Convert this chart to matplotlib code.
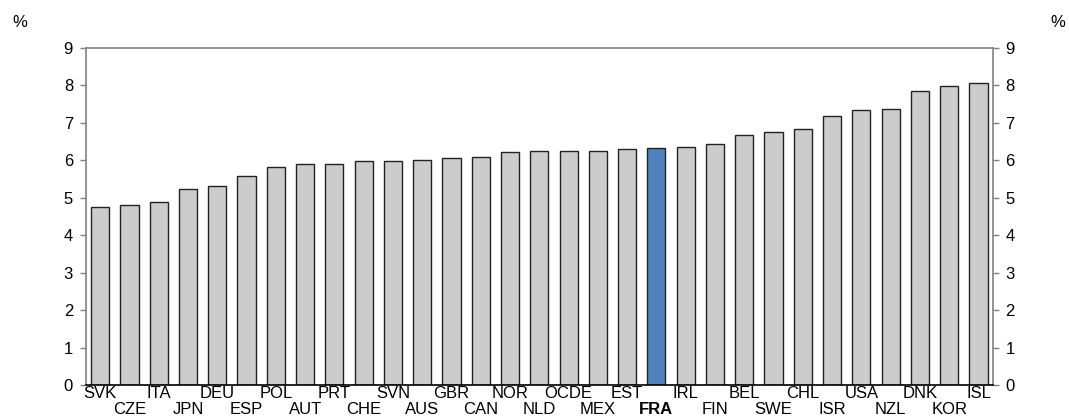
import matplotlib
matplotlib.use("Agg")
import matplotlib.pyplot as plt
import numpy as np

plt.rcParams['font.family'] = ['Liberation Sans', 'DejaVu Sans']

# pays et valeurs (%)
countries = ['SVK', 'CZE', 'ITA', 'JPN', 'DEU', 'ESP', 'POL', 'AUT', 'PRT', 'CHE',
             'SVN', 'AUS', 'GBR', 'CAN', 'NOR', 'NLD', 'OCDE', 'MEX', 'EST', 'FRA',
             'IRL', 'FIN', 'BEL', 'SWE', 'CHL', 'ISR', 'USA', 'NZL', 'DNK', 'KOR', 'ISL']
values = [4.76, 4.80, 4.89, 5.23, 5.32, 5.57, 5.81, 5.90, 5.90, 5.98,
          5.98, 5.99, 6.05, 6.09, 6.22, 6.23, 6.23, 6.25, 6.29, 6.31,
          6.36, 6.43, 6.67, 6.74, 6.84, 7.17, 7.34, 7.37, 7.85, 7.98, 8.07]
highlight = 'FRA'
yticks = list(range(0, 10))

fig = plt.figure(figsize=(10.69, 4.17), dpi=100)
ax = fig.add_axes([0.08, 0.0767, 0.849, 0.809])

x = np.arange(len(countries))
colors = ['#4f81bd' if c == highlight else '#cccccc' for c in countries]
ax.bar(x, values, width=0.62, color=colors, edgecolor='#222222', linewidth=1.0, zorder=2)

ax.set_xlim(-0.5, len(countries) - 0.5)
ax.set_ylim(0, 9)
ax.set_yticks(yticks)
ax.tick_params(axis='y', left=True, right=True, labelleft=True, labelright=True,
               length=4, width=1, color='#808080', labelsize=12, pad=5)

# étiquettes en deux rangées
even = x[::2]
odd = x[1::2]
ax.set_xticks(even, [countries[i] for i in even])
ax.set_xticks(odd, [countries[i] for i in odd], minor=True)
ax.tick_params(axis='x', which='major', length=0, pad=1, labelsize=12)
ax.tick_params(axis='x', which='minor', length=0, pad=12.5, labelsize=12)
for lbl in ax.get_xticklabels() + ax.get_xticklabels(minor=True):
    if lbl.get_text() == highlight:
        lbl.set_fontweight('bold')

for s in ['left', 'right', 'top']:
    ax.spines[s].set_color('#808080')
    ax.spines[s].set_linewidth(1.2)
ax.spines['bottom'].set_color('black')
ax.spines['bottom'].set_linewidth(1.2)

fig.text(0.019, 0.945, '%', fontsize=12, va='center', ha='center')
fig.text(0.9895, 0.945, '%', fontsize=12, va='center', ha='center')

fig.savefig('out.png', dpi=100)
